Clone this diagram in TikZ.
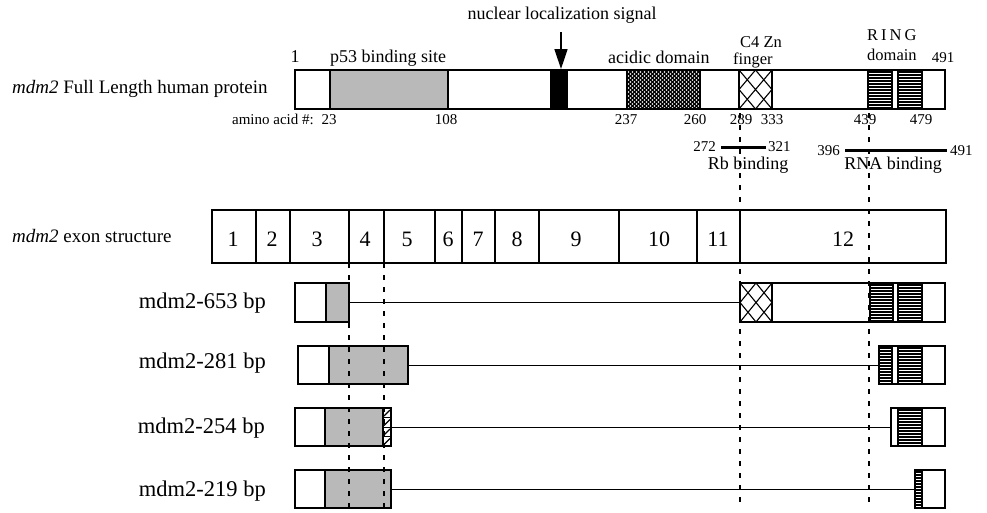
\documentclass[tikz,border=0pt]{standalone}
\usepackage{fontspec}
\setmainfont{Liberation Serif}
\usetikzlibrary{arrows.meta}
\tikzset{
 outl/.style={draw=black, line width=1.3pt},
 graybox/.style={outl, fill=gray!55},
 link/.style={line width=1pt},
 guide/.style={line width=2pt, dash pattern=on 5pt off 7pt},
 lbl/.style={inner sep=0pt, font=\fontsize{18}{20}\selectfont},
 small/.style={inner sep=0pt, font=\fontsize{16.5}{18}\selectfont},
 mainl/.style={inner sep=0pt, font=\fontsize{19}{21}\selectfont},
 numl/.style={inner sep=0pt, font=\fontsize{15}{17}\selectfont},
 exl/.style={inner sep=0pt, font=\fontsize{22}{24}\selectfont},
 varl/.style={inner sep=0pt, font=\fontsize{22.5}{24}\selectfont},
 bindbar/.style={line width=3pt},
}
\newcommand\ringhatch[4]{%
 \begin{scope}
 \clip (#1,#2) rectangle (#3,#4);
 \foreach \k in {0,...,13} \draw[line width=1.2pt] (#1,#2+2+\k*3) -- (#3,#2+2+\k*3);
 \end{scope}
 \draw[outl] (#1,#2) rectangle (#3,#4);}
\newcommand\znbox[4]{%
 \draw[outl, fill=white] (#1,#2) rectangle (#3,#4);
 \draw[line width=1.1pt] ({(#1+#3)/2},#2) -- (#1,{(#2+#4)/2}) -- ({(#1+#3)/2},#4) -- (#3,{(#2+#4)/2}) -- cycle;
 \draw[line width=1.1pt] (#1,#2) -- (#3,#4) (#3,#2) -- (#1,#4);}
\begin{document}
\begin{tikzpicture}[x=1pt,y=-1pt]
\useasboundingbox (0,0) rectangle (987,512);
\fill[white] (0,0) rectangle (987,512);

% ---------- full length protein ----------
\node[mainl, anchor=base west] (fl) at (12,93) {\textit{mdm2} Full Length human protein};
\draw[outl, fill=white] (295,70) rectangle (945,109);
\draw[graybox] (330,70) rectangle (448,109);
\draw[outl, fill=black] (551,70) rectangle (567,109);
\begin{scope}
 \clip (627,70) rectangle (700,109);
 \fill[black] (627,70) rectangle (700,109);
 \foreach \r in {0,...,9} \foreach \c in {0,...,18} {
   \fill[white] (628.5+\c*4,72+\r*4) circle (0.95);
   \fill[white] (630.5+\c*4,74+\r*4) circle (0.95);}
\end{scope}
\draw[outl] (627,70) rectangle (700,109);
\znbox{739}{70}{772}{109}
\ringhatch{868}{70}{892}{109}
\ringhatch{898}{70}{922}{109}

% arrow for NLS
\node[lbl, anchor=base] (nls) at (562,19) {nuclear localization signal};
\coordinate (nlsTip) at (561,69);
\draw[line width=1.6pt, -{Triangle[length=20pt,width=13pt]}] (561,32) -- (nlsTip);

% labels above
\node[lbl, anchor=base] (one) at (295,62) {1};
\node[lbl, anchor=base west] (p53) at (330,62) {p53 binding site};
\node[lbl, anchor=base west] (acid) at (608,63) {acidic domain};
\node[small, anchor=base west] (c4) at (740,47) {C4 Zn};
\node[small, anchor=base west] (fing) at (733,64) {finger};
\node[small, anchor=base west] (ring) at (867,40) {R\hspace{3pt}I\hspace{3pt}N\hspace{3pt}G};
\node[small, anchor=base west] (dom) at (867,60) {domain};
\node[numl, anchor=base] (n491a) at (943,62) {491};

% numbers below
\node[numl, anchor=base east] (aa) at (314,124) {amino acid \#:};
\node[numl, anchor=base] (n23) at (329,124) {23};
\node[numl, anchor=base] (n108) at (446,124) {108};
\node[numl, anchor=base] (n237) at (626,124) {237};
\node[numl, anchor=base] (n260) at (695,124) {260};
\node[numl, anchor=base] (n289) at (741,124) {289};
\node[numl, anchor=base] (n333) at (772,124) {333};
\node[numl, anchor=base] (n439) at (865,124) {439};
\node[numl, anchor=base] (n479) at (921,124) {479};

% binding regions
\coordinate (rbA) at (721,147);
\coordinate (rbB) at (766,147);
\draw[bindbar] (rbA) -- (rbB);
\node[numl, anchor=base east] (n272) at (716,151.5) {272};
\node[numl, anchor=base west] (n321) at (768,151.5) {321};
\node[lbl, anchor=base] (rbt) at (748,169) {Rb binding};
\coordinate (rnaA) at (845,150);
\coordinate (rnaB) at (947,150);
\draw[bindbar] (rnaA) -- (rnaB);
\node[numl, anchor=base east] (n396) at (840,155) {396};
\node[numl, anchor=base west] (n491b) at (950,155) {491};
\node[lbl, anchor=base] (rnat) at (893,169) {RNA binding};

% ---------- exon structure ----------
\node[mainl, anchor=base west] (ex) at (12,242) {\textit{mdm2} exon structure};
\draw[outl, fill=white] (212,210) rectangle (946,263);
\foreach \d in {256,290,349,384,435,462,495,539,619,697,740}
  \draw[outl] (\d,210) -- (\d,263);
\foreach \n/\cx in {1/233,2/272,3/317,4/365,5/407,6/448,7/478,8/517,9/576,10/659,11/718,12/843}
  \node[exl, anchor=base] (e\n) at (\cx,246) {\n};

% ---------- mdm2-653 ----------
\node[varl, anchor=base east] (v653) at (266,308) {mdm2-653 bp};
\draw[outl, fill=white] (295,283) rectangle (326,322);
\draw[graybox] (326,283) rectangle (349,322);
\draw[outl, fill=white] (740,283) rectangle (945,322);
\znbox{740}{283}{772}{322}
\ringhatch{870}{283}{893}{322}
\ringhatch{898}{283}{922}{322}
\coordinate (a653) at (349,302);
\coordinate (b653) at (740,302);
\draw[link] (a653) -- (b653);

% ---------- mdm2-281 ----------
\node[varl, anchor=base east] (v281) at (266,368) {mdm2-281 bp};
\draw[outl, fill=white] (298,346) rectangle (329,384);
\draw[graybox] (329,346) rectangle (408,384);
\draw[outl, fill=white] (879,346) rectangle (945,384);
\ringhatch{879}{346}{892}{384}
\ringhatch{898}{346}{922}{384}
\coordinate (a281) at (408,365);
\coordinate (b281) at (879,365);
\draw[link] (a281) -- (b281);

% ---------- mdm2-254 ----------
\node[varl, anchor=base east] (v254) at (265,433) {mdm2-254 bp};
\draw[outl, fill=white] (295,408) rectangle (325,446);
\draw[graybox] (325,408) rectangle (383,446);
\draw[outl, fill=white] (383,408) rectangle (391,446);
\foreach \k in {0,...,3} {
  \draw[line width=0.9pt] (383,408+\k*9.5) -- (391,408+\k*9.5);
  \draw[line width=1.2pt] (384,408+\k*9.5+8) -- (390,408+\k*9.5+2);}
\draw[outl] (383,408) rectangle (391,446);
\draw[outl, fill=white] (891,408) rectangle (945,446);
\ringhatch{898}{408}{922}{446}
\coordinate (a254) at (391,427);
\coordinate (b254) at (891,427);
\draw[link] (a254) -- (b254);

% ---------- mdm2-219 ----------
\node[varl, anchor=base east] (v219) at (266,496) {mdm2-219 bp};
\draw[outl, fill=white] (295,470) rectangle (325,508);
\draw[graybox] (325,470) rectangle (391,508);
\draw[outl, fill=white] (915,470) rectangle (945,508);
\ringhatch{915}{470}{922}{508}
\coordinate (a219) at (391,489);
\coordinate (b219) at (915,489);
\draw[link] (a219) -- (b219);

% ---------- dashed guides ----------
\draw[guide] (740,113) -- (740,507);
\draw[guide] (869,113) -- (869,507);
\draw[guide] (349,263) -- (349,507);
\draw[guide] (384,263) -- (384,507);
\end{tikzpicture}
\end{document}
